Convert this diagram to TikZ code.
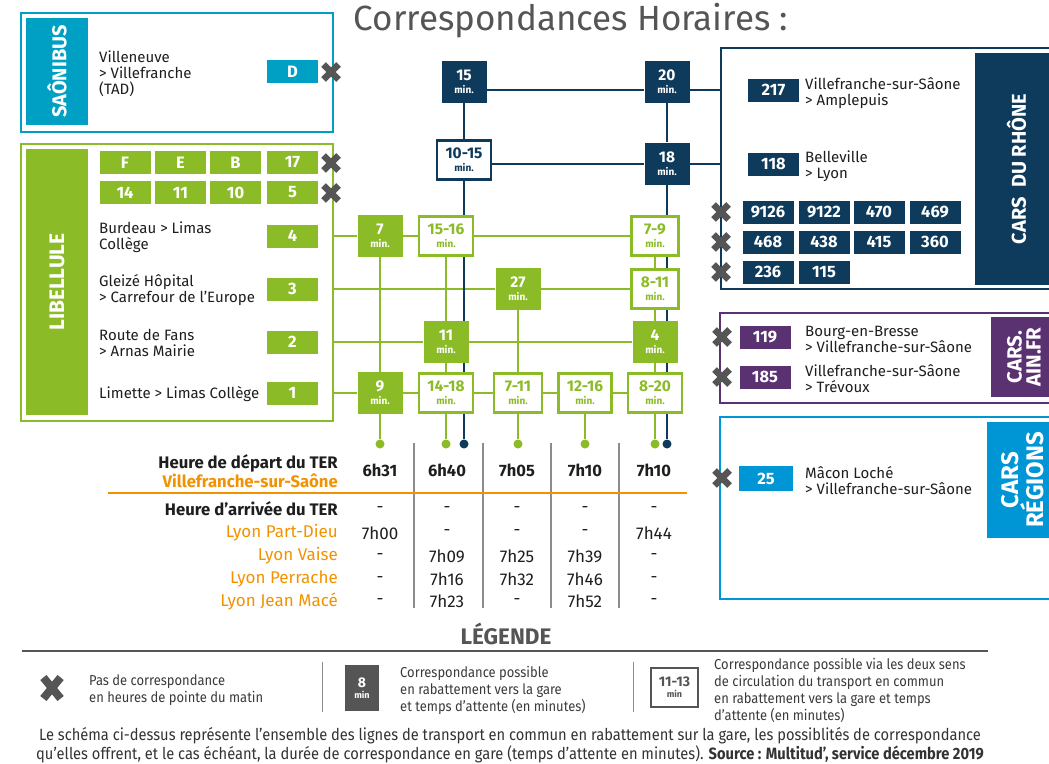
\documentclass[tikz,border=0pt]{standalone}
\usepackage{fontspec}
\setmainfont{Fira Sans}
\newfontfamily\etroit[FakeStretch=0.9]{Fira Sans}
\usetikzlibrary{positioning,backgrounds}

\definecolor{vertlib}{RGB}{139,187,38}
\definecolor{bleusaone}{RGB}{0,160,196}
\definecolor{marine}{RGB}{14,58,92}
\definecolor{violetain}{RGB}{90,50,114}
\definecolor{bleureg}{RGB}{0,150,214}
\definecolor{orangeter}{RGB}{243,146,0}
\definecolor{grisx}{RGB}{85,85,85}
\definecolor{grissep}{RGB}{140,140,140}
\definecolor{texte}{RGB}{30,30,30}

\newcommand{\fz}[2]{\fontsize{#1}{#2}\selectfont}
\newcommand{\mins}[1]{{\fz{15.5}{13}#1}\\{\fz{10}{13}min.}}

\tikzset{
  cadre/.style={draw=#1, line width=1.8pt, fill=white, anchor=north west, inner sep=0},
  bandeau/.style={fill=#1, text=white, rotate=90, inner sep=0, align=center},
  ligne/.style={fill=#1, text=white, minimum width=51, minimum height=23, inner sep=0, font=\bfseries\fz{16.5}{16}},
  trajet/.style={anchor=west, align=left, inner sep=0, text=texte, font=\fz{15}{16}},
  minplein/.style={fill=#1, text=white, minimum width=45, minimum height=42, inner sep=0, align=center, font=\bfseries\fz{10}{13}},
  mincreux/.style={draw=#1, line width=2.2pt, fill=white, text=#1, minimum height=39, inner sep=0, align=center, font=\bfseries\fz{10}{13}},
  lienV/.style={vertlib, line width=2.2pt},
  lienM/.style={marine, line width=2.2pt},
  pastille/.style={circle, fill=#1, minimum size=9, inner sep=0},
  heure/.style={inner sep=0, text=texte, font=\fz{17}{16}},
  titreTab/.style={anchor=east, align=right, inner sep=0, text=texte, font=\bfseries\fz{16.7}{16}},
  legtxt/.style={anchor=west, align=left, inner sep=0, text=grisx!70!black, font=\etroit\fz{14.4}{17}},
  pics/nocorr/.style={code={\draw[grisx, line width=#1] (-7.5,-7.5) -- (7.5,7.5) (-7.5,7.5) -- (7.5,-7.5);}},
  pics/nocorr/.default=6.5pt
}

\begin{document}
\begin{tikzpicture}[x=1pt, y=-1pt]

    \useasboundingbox (0,0) rectangle (1049,763);

    % ===============================
    % Titre
    % ===============================
    \node[font=\fz{35}{35}, text=grisx] (titre) at (571,21) {Correspondances Horaires :};

    % ===============================
    % Saônibus
    % ===============================
    \node[cadre=bleusaone, minimum width=312, minimum height=119] (saone) at (20,12) {};
    \node[bandeau=bleusaone, minimum width=107, minimum height=62, font=\bfseries\fz{20}{20}] (saoneT) at (57,71.5) {SAÔNIBUS};
    \node[trajet] (trD) at (99,74) {Villeneuve\\> Villefranche\\(TAD)};
    \node[ligne=bleusaone] (lD) at (292.5,71.5) {D};
    \pic at (331,72) {nocorr};

    % ===============================
    % Libellule
    % ===============================
    \node[cadre=vertlib, minimum width=312, minimum height=277] (libel) at (20,143) {};
    \node[bandeau=vertlib, minimum width=266, minimum height=62, font=\bfseries\fz{21}{21}] (libelT) at (57,282) {LIBELLULE};

    \foreach \t/\x in {F/125,E/180.5,B/235.5,17/292.5}
        \node[ligne=vertlib] (l\t) at (\x,162.5) {\t};
    \foreach \t/\x in {14/125,11/180.5,10/235.5,5/292.5}
        \node[ligne=vertlib] (l\t) at (\x,192.5) {\t};
    \pic at (331,163) {nocorr};
    \pic at (331,193) {nocorr};

    \foreach \n/\y/\txt in {
            4/236/{Burdeau > Limas\\Collège},
            3/289/{Gleizé Hôpital\\> Carrefour de l’Europe},
            2/342/{Route de Fans\\> Arnas Mairie},
            1/393/{Limette > Limas Collège}}{
            \node[ligne=vertlib] (l\n) at (292.5,\y) {\n};
            \node[trajet] (tr\n) at (99,\y+1) {\txt};
        }

    % ===============================
    % Cars du Rhône
    % ===============================
    \node[cadre=marine, minimum width=340, minimum height=241] (rhone) at (720,47) {};
    \node[bandeau=marine, minimum width=232, minimum height=83, font=\bfseries\fz{20}{20}] (rhoneT) at (1016.5,169) {CARS\ \ DU RHÔNE};
    \node[ligne=marine] (l217) at (773.5,90) {217};
    \node[trajet] (tr217) at (805,93) {Villefranche-sur-Sâone\\> Amplepuis};
    \node[ligne=marine] (l118) at (773.5,164) {118};
    \node[trajet] (tr118) at (805,166) {Belleville\\> Lyon};

    \foreach \t/\x in {9126/768,9122/824,470/879,469/935}
        \node[ligne=marine] (l\t) at (\x,212) {\t};
    \foreach \t/\x in {468/768,438/824,415/879,360/935}
        \node[ligne=marine] (l\t) at (\x,242) {\t};
    \foreach \t/\x in {236/768,115/824}
        \node[ligne=marine] (l\t) at (\x,272) {\t};
    \foreach \y in {212,242,272}
        \pic at (721,\y) {nocorr};

    % ===============================
    % Cars.ain.fr
    % ===============================
    \node[cadre=violetain, minimum width=341, minimum height=90] (ain) at (719,312) {};
    \node[bandeau=violetain, minimum width=80, minimum height=66, font=\bfseries\fz{20.5}{19}] (ainT) at (1024,357) {CARS.\\AIN.FR};
    \node[ligne=violetain] (l119) at (765,337) {119};
    \node[trajet] (tr119) at (805,339) {Bourg-en-Bresse\\> Villefranche-sur-Sâone};
    \node[ligne=violetain] (l185) at (765,377) {185};
    \node[trajet] (tr185) at (805,379) {Villefranche-sur-Sâone\\> Trévoux};
    \pic at (722,337) {nocorr};
    \pic at (722,377) {nocorr};

    % ===============================
    % Cars Régions
    % ===============================
    \node[cadre=bleureg, minimum width=341, minimum height=182] (reg) at (719,416) {};
    \node[bandeau=bleureg, minimum width=116, minimum height=71, font=\bfseries\fz{24}{22}] (regT) at (1022.5,480) {CARS\\RÉGIONS};
    \node[ligne=bleureg, minimum width=54, minimum height=24.5] (l25) at (766,478.5) {25};
    \node[trajet] (tr25) at (805,481) {Mâcon Loché\\> Villefranche-sur-Sâone};
    \pic at (722,478) {nocorr};

    % ===============================
    % Temps de correspondance en gare
    % ===============================
    \node[minplein=marine] (m15) at (464,82) {\mins{15}};
    \node[minplein=marine] (m20) at (667,82) {\mins{20}};
    \node[mincreux=marine, minimum width=54] (m1015) at (464,160) {\mins{10-15}};
    \node[minplein=marine] (m18) at (667,163.5) {\mins{18}};

    \node[minplein=vertlib] (m7) at (380,236) {\mins{7}};
    \node[mincreux=vertlib, minimum width=54] (m1516) at (446,236) {\mins{15-16}};
    \node[mincreux=vertlib, minimum width=47] (m79) at (655,236) {\mins{7-9}};
    \node[minplein=vertlib] (m27) at (518,289) {\mins{27}};
    \node[mincreux=vertlib, minimum width=47] (m811) at (655,289) {\mins{8-11}};
    \node[minplein=vertlib] (m11) at (446,342) {\mins{11}};
    \node[minplein=vertlib] (m4) at (655,342) {\mins{4}};
    \node[minplein=vertlib] (m9) at (380,393) {\mins{9}};
    \node[mincreux=vertlib, minimum width=54] (m1418) at (446,393) {\mins{14-18}};
    \node[mincreux=vertlib, minimum width=48] (m711) at (518,393) {\mins{7-11}};
    \node[mincreux=vertlib, minimum width=53] (m1216) at (585,393) {\mins{12-16}};
    \node[mincreux=vertlib, minimum width=54] (m820) at (655,393) {\mins{8-20}};

    % Pastilles de départ
    \foreach \x/\n in {380/1,446/2,518/3,585/4,655/5}
        \node[pastille=vertlib] (dV\n) at (\x,444) {};
    \node[pastille=marine] (dM1) at (464,444) {};
    \node[pastille=marine] (dM2) at (667,444) {};

    % Liaisons (sous les cases)
    \begin{scope}[on background layer]
        \fill[white] (0,0) rectangle (1049,763);

        \draw[lienV] (l4 -| libel.east) -- (m7) -- (m1516) -- (m79);
        \draw[lienV] (l3 -| libel.east) -- (m27) -- (m811);
        \draw[lienV] (l2 -| libel.east) -- (m11) -- (m4);
        \draw[lienV] (l1 -| libel.east) -- (m9) -- (m1418) -- (m711) -- (m1216) -- (m820);

        \draw[lienV] (m7) -- (m9) -- (dV1);
        \draw[lienV] (m1516) -- (m11) -- (m1418) -- (dV2);
        \draw[lienV] (m27) -- (m711) -- (dV3);
        \draw[lienV] (m1216) -- (dV4);
        \draw[lienV] (m79) -- (m811) -- (m4) -- (m820) -- (dV5);

        \draw[lienM] (m15.east |- l217) -- (m20.west |- l217) (m20.east |- l217) -- (rhone.west |- l217);
        \draw[lienM] (m1015.east |- l118) -- (m18.west |- l118) (m18.east |- l118) -- (rhone.west |- l118);
        \draw[lienM] (m15) -- (m1015) -- (dM1);
        \draw[lienM] (m20) -- (m18) -- (dM2);
    \end{scope}

    % ===============================
    % Horaires TER
    % ===============================
    \foreach \x in {414,483,551,619}
        \draw[grissep, line width=1.4pt] (\x,443) -- (\x,608);

    \node[titreTab] (depart) at (338,471) {Heure de départ du TER\\\textcolor{orangeter}{Villefranche-sur-Saône}};
    \foreach \h/\x/\n in {6h31/380/1,6h40/447/2,7h05/517/3,7h10/585/4,7h10/654/5}
        \node[heure, font=\bfseries\fz{16.5}{16}] (dep\n) at (\x,470) {\h};
    \draw[orangeter, line width=2pt] (108,493) -- (687,493);

    \node[titreTab] (arrivee) at (338,509) {Heure d’arrivée du TER};
    \foreach \x/\n in {380/1,447/2,517/3,585/4,654/5}
        \node[heure] (arr\n) at (\x,509) {-};

    \foreach \st/\y/\a/\b/\c/\d/\e in {
            Lyon Part-Dieu/533/7h00/-/-/-/7h44,
            Lyon Vaise/556/-/7h09/7h25/7h39/-,
            Lyon Perrache/579/-/7h16/7h32/7h46/-,
            Lyon Jean Macé/601/-/7h23/-/7h52/-}{
            \node[heure, anchor=east, text=orangeter] (st\y) at (338,\y) {\st};
            \node[heure] (v\y-1) at (380,\y) {\a};
            \node[heure] (v\y-2) at (447,\y) {\b};
            \node[heure] (v\y-3) at (517,\y) {\c};
            \node[heure] (v\y-4) at (585,\y) {\d};
            \node[heure] (v\y-5) at (654,\y) {\e};
        }

    % ===============================
    % Légende
    % ===============================
    \node[font=\bfseries\fz{22.5}{22}, text=grisx] (legende) at (506,634) {LÉGENDE};
    \draw[grisx, line width=1.2pt] (22,651) -- (988,651);

    \pic[xscale=1.15, yscale=1.4] at (52,688) {nocorr=8pt};
    \node[legtxt] (leg1) at (89,690) {Pas de correspondance\\en heures de pointe du matin};

    \draw[grissep, line width=1pt] (322,662) -- (322,712);
    \node[fill=grisx, text=white, minimum width=34, minimum height=46, inner sep=0, align=center, font=\bfseries\fz{9}{11}] (leg8) at (362,688) {{\fz{14}{11}8}\\min};
    \node[legtxt] (leg2) at (400,690) {Correspondance possible\\en rabattement vers la gare\\et temps d’attente (en minutes)};

    \draw[grissep, line width=1pt] (633,662) -- (633,712);
    \node[draw=grisx, line width=2pt, text=grisx, minimum width=47, minimum height=39, inner sep=0, align=center, font=\bfseries\fz{9}{11}] (leg1113) at (674.5,687.5) {{\fz{14}{11}11-13}\\min};
    \node[legtxt] (leg3) at (714,690.5) {Correspondance possible via les deux sens\\de circulation du transport en commun\\en rabattement vers la gare et temps\\d’attente (en minutes)};

    \node[align=center, inner sep=0, text=grisx!60!black, font=\etroit\fz{16.3}{19}] (note) at (510,745.5) {Le schéma ci-dessus représente l’ensemble des lignes de transport en commun en rabattement sur la gare, les possiblités de correspondance\\qu’elles offrent, et le cas échéant, la durée de correspondance en gare (temps d’attente en minutes). \textbf{Source : Multitud’, service décembre 2019}};

\end{tikzpicture}
\end{document}
